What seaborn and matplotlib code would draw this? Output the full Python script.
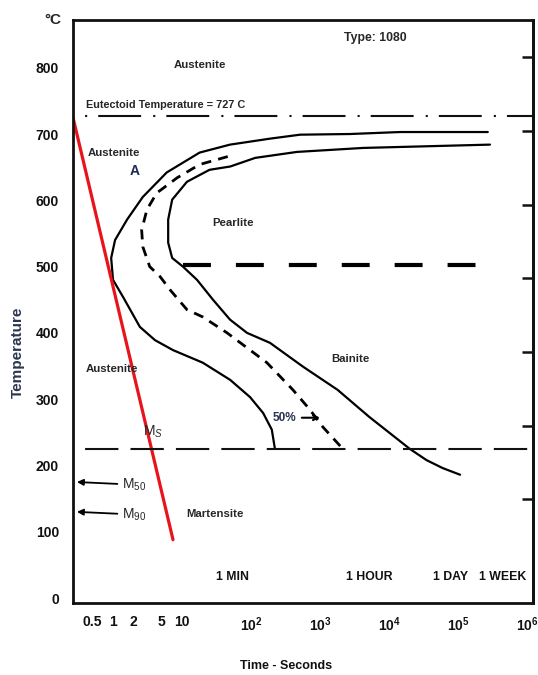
import numpy as np
import pandas as pd
import matplotlib.pyplot as plt
import seaborn as sns

# TTT (isothermal transformation) diagram, plain carbon steel type 1080

# transformation start curve (time in s, temperature in C)
start_time = [2.7e5, 1.45e4, 2720, 515, 188, 49.6, 18, 6.0, 2.7, 1.6, 1.07, 0.94, 1.0, 1.4, 2.45, 4.06,
              7.4, 20, 50, 97, 150, 200, 222]
start_temp = [703, 703, 700, 699, 693, 684, 672, 642, 605, 571, 540, 513, 480, 454, 409, 389,
              374, 355, 329, 303, 279, 254, 225]

# 50 % transformed curve
half_time = [46, 18, 8.5, 4.3, 3.1, 2.6, 2.7, 3.4, 4.8, 6.7, 11.8, 20, 45, 97, 170, 405, 715, 1100, 2140]
half_temp = [666, 654, 634, 611, 586, 555, 530, 500, 485, 465, 435, 424, 400, 374, 355, 314, 284, 258, 225]

# transformation finish curve
finish_time = [2.9e5, 4200, 464, 115, 50, 25, 11.8, 7.2, 6.3, 6.3, 7.2, 10.3, 16.5, 28.1, 49.6, 87.5,
               188, 567, 1800, 5200, 2.0e4, 3.5e4, 6.0e4, 1.07e5]
finish_temp = [684, 679, 673, 664, 651, 646, 628, 601, 571, 536, 513, 500, 480, 450, 420, 400,
               385, 349, 314, 273, 225, 208, 196, 186]

# pearlite / bainite boundary
boundary_time = [10.3, 3.5e5]
boundary_temp = [502, 502]

# quench (cooling) line
cool_time = [0.26, 7.4]
cool_temp = [727, 88]

eutectoid_temp = 727
ms_temp = 225
m50_temp = 175
m90_temp = 130

y_ticks = [0, 100, 200, 300, 400, 500, 600, 700, 800]
f_ticks = [300, 500, 700, 900, 1100, 1300, 1500]   # right side, deg F
x_major = [10, 1e2, 1e3, 1e4, 1e5, 1e6]
x_major_labels = ['10', r'$\mathbf{10^{2}}$', r'$\mathbf{10^{3}}$', r'$\mathbf{10^{4}}$',
                  r'$\mathbf{10^{5}}$', r'$\mathbf{10^{6}}$']
x_minor = [0.5, 1, 2, 5]
x_minor_labels = ['0.5', '1', '2', '5']
time_marks = ['1 MIN', '1 HOUR', '1 DAY', '1 WEEK']

sns.set_theme(style='white')
plt.rcParams['font.family'] = ['Liberation Sans', 'DejaVu Sans']
plt.rcParams['mathtext.fontset'] = 'custom'
plt.rcParams['mathtext.rm'] = 'Liberation Sans'
plt.rcParams['mathtext.it'] = 'Liberation Sans:italic'
plt.rcParams['mathtext.bf'] = 'Liberation Sans:bold'

lab = dict(weight='bold', size=8.2, color='#262626', ha='center', va='center')

fig = plt.figure(figsize=(5.38, 6.75), dpi=100)
ax = fig.add_axes([73 / 538, 72 / 675, 460 / 538, 583 / 675])
ax.set_xscale('log')
ax.set_xlim(0.263, 1.22e6)
ax.set_ylim(-7.5, 872)

# curves
sns.lineplot(x=start_time, y=start_temp, sort=False, estimator=None, color='black', lw=1.6, ax=ax)
sns.lineplot(x=finish_time, y=finish_temp, sort=False, estimator=None, color='black', lw=1.6, ax=ax)
sns.lineplot(x=half_time, y=half_temp, sort=False, estimator=None, color='black', lw=2.0,
             linestyle=(0, (3.6, 2.6)), ax=ax)
sns.lineplot(x=boundary_time, y=boundary_temp, sort=False, estimator=None, color='black', lw=3.0,
             linestyle=(0, (6.7, 6)), ax=ax)
sns.lineplot(x=cool_time, y=cool_temp, sort=False, estimator=None, color='#e8141c', lw=2.3, ax=ax)

ax.axhline(eutectoid_temp, color='#111111', lw=1.5, linestyle=(20.6, (20.6, 5.8, 1, 5.3)))
ax.axhline(ms_temp, color='#111111', lw=1.5, linestyle=(16, (16, 5.8)))

# Ms / M50 / M90
ax.text(0.152, 0.293, r'M$_{S}$', transform=ax.transAxes, fontsize=10, color='#262626', va='center')
for t, name in [(m50_temp, r'M$_{50}$'), (m90_temp, r'M$_{90}$')]:
    ax.annotate(name, xy=(0.30, t), xytext=(1.35, t - 4), ha='left', va='center', fontsize=10,
                color='#262626',
                arrowprops=dict(arrowstyle='-|>', color='black', lw=1.3, shrinkA=1, shrinkB=0,
                                mutation_scale=9))

ax.annotate('50%', xy=(1000, 272), xytext=(300, 272), ha='center', va='center',
            weight='bold', size=8.5, color='#28324f',
            arrowprops=dict(arrowstyle='->', color='black', lw=1.5, shrinkA=2, shrinkB=0))

# region labels
ax.text(0.276, 0.923, 'Austenite', transform=ax.transAxes, **lab)
ax.text(0.202, 0.855, 'Eutectoid Temperature = 727 C', transform=ax.transAxes, **{**lab, 'size': 7.8})
ax.text(0.089, 0.772, 'Austenite', transform=ax.transAxes, **lab)
ax.text(0.133, 0.741, 'A', transform=ax.transAxes, **{**lab, 'size': 10, 'color': '#1c2a55'})
ax.text(0.348, 0.652, 'Pearlite', transform=ax.transAxes, **lab)
ax.text(0.602, 0.419, 'Bainite', transform=ax.transAxes, **lab)
ax.text(0.085, 0.401, 'Austenite', transform=ax.transAxes, **lab)
ax.text(0.309, 0.153, 'Martensite', transform=ax.transAxes, **lab)
ax.text(0.657, 0.969, 'Type: 1080', transform=ax.transAxes, **{**lab, 'size': 8.8})

for xf, s in zip([0.346, 0.643, 0.820, 0.935], time_marks):
    ax.text(xf, 0.045, s, transform=ax.transAxes, **{**lab, 'size': 8.8, 'color': '#111111'})

ax.text(-0.043, 1.0, '°C', transform=ax.transAxes, ha='center', va='center',
        fontsize=11, fontweight='bold', color='#262626')

# axes, ticks
ax.set_yticks(y_ticks)
ax.set_xticks(x_major, x_major_labels)
ax.set_xticks(x_minor, x_minor_labels, minor=True)
ax.tick_params(axis='y', direction='in', length=6, width=1.8, pad=10, labelsize=10, colors='#111111')
ax.tick_params(axis='x', which='major', direction='in', length=7, width=1.8, pad=9, labelsize=10,
               colors='#111111')
ax.tick_params(axis='x', which='minor', length=0, pad=9, labelsize=10, colors='#111111')
for lbl in ax.get_yticklabels() + ax.get_xticklabels() + ax.get_xticklabels(minor=True):
    lbl.set_fontweight('bold')

sec = ax.secondary_yaxis('right', functions=(lambda c: c * 9 / 5 + 32, lambda f: (f - 32) * 5 / 9))
sec.set_yticks(f_ticks)
sec.tick_params(direction='in', length=8, width=1.8, labelright=False, colors='#111111')
sec.spines['right'].set_linewidth(2)
sec.spines['right'].set_color('#111111')

for s in ax.spines.values():
    s.set_linewidth(2)
    s.set_color('#111111')

ax.set_ylabel('Temperature', fontsize=11, fontweight='bold', color='#2b3550')
ax.yaxis.set_label_coords(-0.105, 0.43)
ax.set_xlabel('Time - Seconds', fontsize=9, fontweight='bold', color='#111111')
ax.xaxis.set_label_coords(0.463, -0.098)

plt.savefig('out.png', dpi=100)
plt.close()
